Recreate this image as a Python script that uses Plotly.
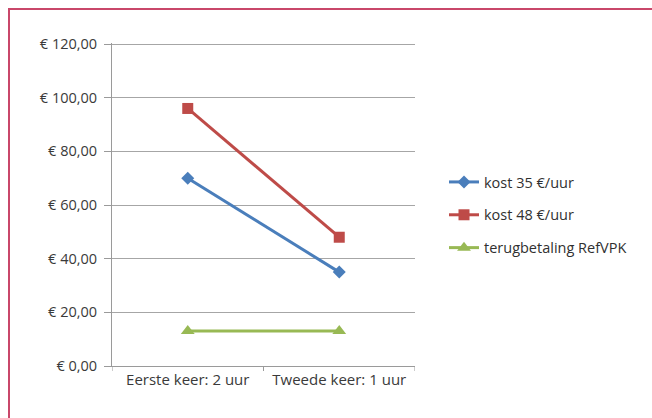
import plotly.graph_objects as go

categories = ["Eerste keer: 2 uur", "Tweede keer: 1 uur"]
kost35 = [70, 35]
kost48 = [96, 48]
terug = [13, 13]
series_names = ["kost 35 €/uur", "kost 48 €/uur", "terugbetaling RefVPK"]
ytick_vals = [0, 20, 40, 60, 80, 100, 120]
ytick_text = ["€ 0,00", "€ 20,00", "€ 40,00", "€ 60,00", "€ 80,00", "€ 100,00", "€ 120,00"]

W, H = 652, 418
L, R, T, B = 112, 415, 43, 366

fig = go.Figure()
styles = [
    ("#4A7EBB", "diamond", 10),
    ("#BE4B48", "square", 11),
    ("#98B954", "triangle-up", 12),
]
for i, (vals, name) in enumerate(zip([kost35, kost48, terug], series_names)):
    c, sym, sz = styles[i]
    fig.add_trace(go.Scatter(
        x=[0, 1], y=vals, name=name, mode="lines+markers",
        line=dict(color=c, width=3),
        marker=dict(symbol=sym, size=sz, color=c),
        legendgroup=str(i),
    ))

pw = R - L
ph = B - T
def px(x):
    return (x - L) / pw
def py(y):
    return (B - y) / ph

fig.add_shape(type="rect", xref="paper", yref="paper",
              x0=px(9), x1=px(665), y0=py(9), y1=py(430),
              line=dict(color="#C9476A", width=2), fillcolor="rgba(0,0,0,0)")

fig.update_layout(
    width=W, height=H,
    margin=dict(l=L, r=W - R, t=T, b=H - B),
    paper_bgcolor="white", plot_bgcolor="white",
    font=dict(family="Open Sans, sans-serif", size=14, color="#3a3a3a"),
    showlegend=True,
    legend=dict(x=px(444), y=py(215), xanchor="left", yanchor="middle",
                traceorder="grouped", tracegroupgap=11,
                font=dict(size=14.5, color="#303030"), bgcolor="rgba(0,0,0,0)"),
    xaxis=dict(
        range=[-0.5, 1.5], tickvals=[0, 1], ticktext=categories,
        showgrid=False, zeroline=False,
        showline=True, linecolor="#9a9a9a", linewidth=1,
        ticks="", tickfont=dict(size=15, color="#3a3a3a"),
    ),
    yaxis=dict(
        range=[0, 120.4], tickvals=ytick_vals, ticktext=ytick_text,
        showgrid=True, gridcolor="#a6a6a6", gridwidth=1,
        zeroline=False, showline=True, linecolor="#9a9a9a", linewidth=1,
        ticks="outside", ticklen=7, tickcolor="#9a9a9a",
        tickfont=dict(size=14.5, color="#3a3a3a"), ticklabelstandoff=4,
    ),
)

# category boundary ticks on x axis
for xv in [-0.5, 0.5, 1.5]:
    fig.add_shape(type="line", xref="x", yref="paper", x0=xv, x1=xv,
                  y0=0, y1=py(B + 5), line=dict(color="#9a9a9a", width=1))

fig.write_html("out.html")
